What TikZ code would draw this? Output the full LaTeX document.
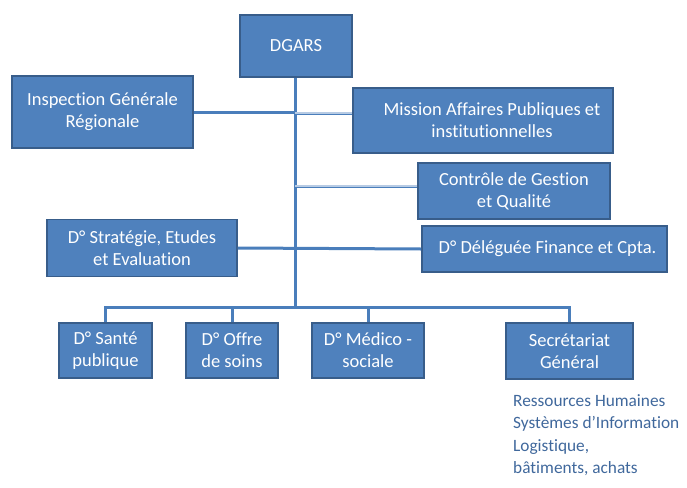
\documentclass[tikz,border=0pt]{standalone}
\usepackage{fontspec}
\setmainfont{Carlito}[Ligatures=CommonOff]
\begin{document}
\begin{tikzpicture}[x=1pt,y=-1pt,
  box/.style={draw=boxedge,line width=1.8pt,fill=boxfill,text=white,align=center,
    inner sep=0pt,font=\fontsize{18.5}{22}\selectfont},
  link/.style={draw=linecol,line width=3pt},
  dlink/.style={draw=linecol,line width=0.9pt,double=white!60!linecol,double distance=1.2pt},
  lst/.style={anchor=west,text=listcol,inner sep=0pt,font=\fontsize{17.3}{22}\selectfont}]
\definecolor{boxfill}{HTML}{4F81BD}
\definecolor{boxedge}{HTML}{385D8A}
\definecolor{linecol}{HTML}{4A7EBB}
\definecolor{listcol}{HTML}{40689C}
\useasboundingbox (0,0) rectangle (687,487);
\node[box,minimum width=112pt,minimum height=62pt] (dg) at (296,46) {DGARS};
\node[box,minimum width=181pt,minimum height=72pt] (ins) at (102.5,112) {Inspection Générale\\Régionale};
\node[box,minimum width=260pt,minimum height=65pt] (mis) at (483,120.5) {\hspace*{18pt}Mission Affaires Publiques et\\\hspace*{18pt}institutionnelles};
\node[box,minimum width=192pt,minimum height=56pt] (cg) at (514,191) {Contrôle de Gestion\\et Qualité};
\node[box,minimum width=245pt,minimum height=46pt] (dfc) at (544.5,249) {\hspace*{6pt}D° Déléguée Finance et Cpta.};
\node[box,minimum width=190pt,minimum height=57pt] (dse) at (142,248) {D° Stratégie, Etudes\\et Evaluation};
\node[box,minimum width=93pt,minimum height=55pt] (dsp) at (105.5,350.5) {D° Santé\\publique};
\node[box,minimum width=92pt,minimum height=55pt] (dos) at (232,350.5) {D° Offre\\de soins};
\node[box,minimum width=112pt,minimum height=55pt] (dms) at (368,350.5) {D° Médico -\\sociale};
\node[box,minimum width=127pt,minimum height=56pt] (sg) at (569.5,351) {Secrétariat\\Général};
\coordinate (bus) at (295,307);
\coordinate (t1) at (295,113);
\coordinate (t2) at (295,186);
\draw[link] (dg.south -| bus) -- (bus);
\draw[link] (ins.east) -- (ins.east -| bus);
\draw[dlink] (t1) -- ([yshift=7.5pt]mis.west);
\draw[dlink] (t2) -- ([yshift=5pt]cg.west);
\draw[link] (dse.east) -- (dfc.west);
\draw[link] (dsp.north) |- (bus);
\draw[link] (dos.north) |- (bus);
\draw[link] (dms.north) |- (bus);
\draw[link] (sg.north) |- (bus);
\node[lst] (l1) at (513,401) {Ressources Humaines};
\node[lst] (l2) at (513,424) {Systèmes d’Information};
\node[lst] (l3) at (513,447) {Logistique,};
\node[lst] (l4) at (513,469) {bâtiments, achats};
\end{tikzpicture}
\end{document}
